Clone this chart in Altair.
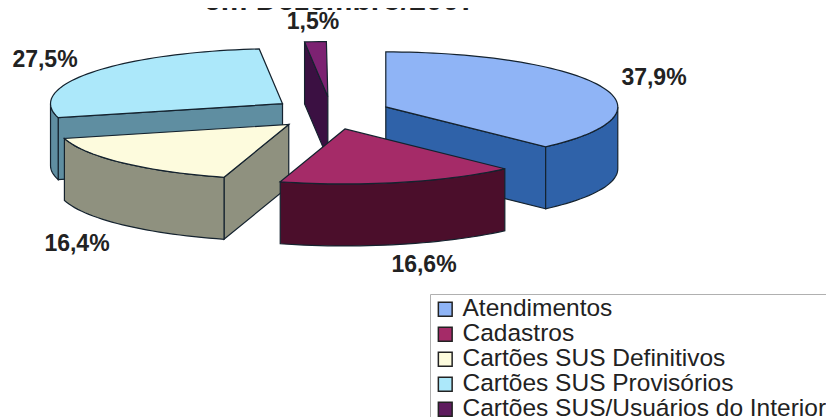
import math
import altair as alt
import pandas as pd

categories = ["Atendimentos", "Cadastros", "Cartões SUS Definitivos", "Cartões SUS Provisórios", "Cartões SUS/Usuários do Interior"]
percent = [37.9, 16.6, 16.4, 27.5, 1.5]
percent_labels = ["37,9%", "16,6%", "16,4%", "27,5%", "1,5%"]
top_colors = ["#8FB4F6", "#A52B68", "#FDFBDD", "#ACE8FA", "#7C2272"]
side_colors = ["#2F62A9", "#4B0E2B", "#8F917F", "#5F8EA1", "#3B1042"]
legend_colors = ["#8FB4F6", "#A52B68", "#FDFBDD", "#ACE8FA", "#5E1C5E"]
title_text = "em Dezembro/2007"

# layout of the 3D pie, in page pixels
OX, OY = 8, 8
CX, CY = 331, 113
RX, RY = 232, 55
DEPTH = 62
EXPLODE_X, EXPLODE_Y = 59, 16.4
PAINT_ORDER = [4, 3, 0, 2, 1]
label_px = [(654, 78), (424, 265), (77, 244), (45, 60), (313, 22)]


def pt(c, a, r=1.0):
    t = math.radians(a)
    return (c[0] + RX * r * math.sin(t), c[1] - RY * r * math.cos(t))


def arc(c, a0, a1):
    n = max(2, int(abs(a1 - a0) / 2) + 2)
    return [pt(c, a0 + (a1 - a0) * i / (n - 1)) for i in range(n)]


def down(points):
    return [(x, y + DEPTH) for x, y in points]


def feature(points, face):
    ring = [[x - OX, y - OY] for x, y in points]
    ring.append(ring[0])
    return {"type": "Feature", "geometry": {"type": "Polygon", "coordinates": [ring]}, "properties": {"face": face}}


starts, acc = [], 0.0
for p in percent:
    starts.append(acc)
    acc += p * 3.6

features = []
for i in PAINT_ORDER:
    a0, a1 = starts[i], starts[i] + percent[i] * 3.6
    mid = math.radians((a0 + a1) / 2)
    c = (CX + EXPLODE_X * math.sin(mid), CY - EXPLODE_Y * math.cos(mid))
    side = categories[i] + " (lateral)"
    if math.sin(math.radians(a0)) < -1e-6:
        edge = [c, pt(c, a0)]
        features.append(feature(edge + down(edge)[::-1], side))
    if math.sin(math.radians(a1)) > 1e-6:
        edge = [c, pt(c, a1)]
        features.append(feature(edge + down(edge)[::-1], side))
    lo, hi = max(a0, 90), min(a1, 270)
    if hi > lo:
        rim = arc(c, lo, hi)
        features.append(feature(rim + down(rim)[::-1], side))
    features.append(feature([c] + arc(c, a0, a1), categories[i] + " (topo)"))

domain = categories + [n + " (lateral)" for n in categories] + [n + " (topo)" for n in categories]
color_range = legend_colors + side_colors + top_colors

pie = (
    alt.Chart(alt.Data(values=features))
    .mark_geoshape(stroke="#14222e", strokeWidth=1.2)
    .encode(
        fill=alt.Color(
            "properties.face:N",
            scale=alt.Scale(domain=domain, range=color_range),
            legend=alt.Legend(
                values=categories, title=None, orient="none", legendX=422, legendY=286,
                labelFont="Liberation Sans", labelFontSize=24.5, labelColor="#222222",
                symbolType="square", symbolSize=190, symbolStrokeColor="#222222", symbolStrokeWidth=1.5,
                rowPadding=0, padding=3, strokeColor="#b0b0b0", fillColor="#ffffff",
                labelLimit=500, labelOffset=5,
            ),
        )
    )
    .project(type="identity", scale=1, translate=[0, 0])
)

labels_df = pd.DataFrame({
    "x": [p[0] - OX for p in label_px],
    "y": [p[1] - OY for p in label_px],
    "t": percent_labels,
})
labels = alt.Chart(labels_df).mark_text(
    font="Liberation Sans", fontWeight="bold", fontSize=23, color="#222222", align="center", baseline="middle"
).encode(
    x=alt.X("x:Q", scale=None, axis=None),
    y=alt.Y("y:Q", scale=None, axis=None),
    text="t:N",
)

title_df = pd.DataFrame({"x": [340 - OX], "y": [10 - OY], "t": [title_text]})
title = alt.Chart(title_df).mark_text(
    font="Liberation Sans", fontWeight="bold", fontSize=30, color="#222222", align="center", baseline="alphabetic"
).encode(
    x=alt.X("x:Q", scale=None, axis=None),
    y=alt.Y("y:Q", scale=None, axis=None),
    text="t:N",
)

chart = (
    alt.layer(pie, labels, title)
    .properties(width=818, height=409, padding=0, autosize=alt.AutoSizeParams(type="none"), background="#ffffff")
    .configure_view(stroke=None)
)
chart.save("out.html", embed_options={"renderer": "svg", "actions": False})
